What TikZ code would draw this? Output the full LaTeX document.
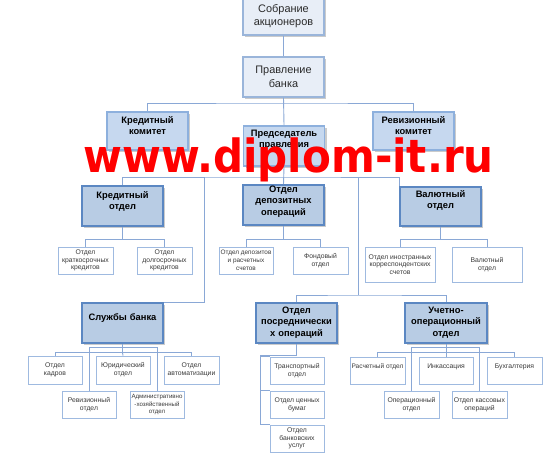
\documentclass[tikz,border=0pt]{standalone}
\usepackage{fontspec}
\usepackage{graphicx}
\setmainfont{Liberation Sans}
\newfontfamily\wmfont{DejaVu Sans}
\usetikzlibrary{shadows,calc}
\newlength\pxu
\setlength\pxu{0.75pt}
\definecolor{topfill}{HTML}{E8EEF7}
\definecolor{topline}{HTML}{9AB5DA}
\definecolor{komfill}{HTML}{C6D8EF}
\definecolor{komline}{HTML}{8DB0DD}
\definecolor{bigfill}{HTML}{B8CCE4}
\definecolor{bigline}{HTML}{5B87C2}
\definecolor{smline}{HTML}{9FBAE0}
\definecolor{lnc}{HTML}{8AA8D6}
\definecolor{txtgray}{HTML}{3A3A3A}
\definecolor{txtdark}{HTML}{2A2A2A}
\definecolor{wmred}{HTML}{FF0000}
\tikzset{
  shad/.style={drop shadow={shadow xshift=1.8pt, shadow yshift=-1.8pt, fill=black!40}},
  topbox/.style={inner sep=0pt, align=center, draw=topline, line width=1.4\pxu, fill=topfill, shad,
    font=\fontsize{8.2}{10.2}\selectfont, text=txtdark, minimum width=81\pxu},
  kombox/.style={inner sep=0pt, align=center, draw=komline, line width=1.6\pxu, fill=komfill, shad,
    font=\bfseries\fontsize{7}{8.9}\selectfont, text=black, text width=81\pxu},
  bigbox/.style={inner sep=0pt, align=center, draw=bigline, line width=1.8\pxu, fill=bigfill, shad,
    font=\bfseries\fontsize{7}{8.7}\selectfont, text=black, text width=81\pxu},
  sm/.style n args={2}{inner sep=0pt, align=center, draw=smline, line width=0.9\pxu, fill=white,
    font=\fontsize{5.1}{5.8}\selectfont, text=txtgray, minimum width=#1\pxu, minimum height=#2\pxu},
  upper/.style={text depth=8\pxu},
  conn/.style={draw=lnc, line width=0.9\pxu},
}
\begin{document}
\begin{tikzpicture}[x=0.75pt,y=-0.75pt]
\fill[white] (0,0) rectangle (559,460);
\useasboundingbox (0,0) rectangle (559,460);

% top levels
\node[topbox, minimum height=38\pxu] (sobr) at (283.5,16) {Собрание\\акционеров};
\node[topbox, minimum height=40\pxu] (prav) at (283.5,77) {Правление\\банка};
\node[kombox, text height=11\pxu, text depth=27\pxu] (kredkom) at (147.5,131) {Кредитный\\комитет};
\node[kombox, text height=11\pxu, text depth=27\pxu] (revkom) at (413.5,131) {Ревизионный\\комитет};
\node[kombox, text height=10\pxu, text depth=30\pxu] (pred) at (284,146) {Председатель\\правления};

% departments
\node[bigbox, text height=12\pxu, text depth=28\pxu] (kredotd) at (122.5,206) {Кредитный\\отдел};
\node[bigbox, text height=7\pxu, text depth=33\pxu] (depop) at (283.5,205) {Отдел\\депозитных\\операций};
\node[bigbox, text height=10\pxu, text depth=29\pxu] (valotd) at (440.5,206.5) {Валютный\\отдел};
\node[bigbox, text height=17\pxu, text depth=23\pxu] (sluzh) at (122.5,323) {Службы банка};
\node[bigbox, text height=10\pxu, text depth=30\pxu] (posr) at (296.5,323) {Отдел\\посреднически\\х операций};
\node[bigbox, text width=82\pxu, text height=10\pxu, text depth=30\pxu] (uchet) at (446,323) {Учетно-\\операционный\\отдел};

% small boxes
\node[sm={55}{27}] (kratk) at (85.5,260.5) {Отдел\\краткосрочных\\кредитов};
\node[sm={55}{27}] (dolg) at (164.5,260.5) {Отдел\\долгосрочных\\кредитов};
\node[sm={54}{27}, font=\fontsize{4.8}{5.8}\selectfont] (depsch) at (246,260.5) {Отдел депозитов\\и расчетных\\счетов};
\node[sm={55}{27}] (fond) at (320.5,260.5) {Фондовый\\отдел};
\node[sm={70}{35}] (inkor) at (400,264.5) {Отдел иностранных\\корреспондентских\\счетов};
\node[sm={70}{35}] (valsm) at (487,264.5) {Валютный\\отдел};

\node[sm={54}{28}] (kadr) at (55,370) {Отдел\\кадров};
\node[sm={54}{28}] (yur) at (123,370) {Юридический\\отдел};
\node[sm={55}{28}] (avt) at (191.5,370) {Отдел\\автоматизации};
\node[sm={54}{27}] (revotd) at (89,404.5) {Ревизионный\\отдел};
\node[sm={54}{27}, font=\fontsize{4.6}{5.8}\selectfont] (adm) at (157,404.5) {Административно\\-хозяйственный\\отдел};

\node[sm={54}{27}] (transp) at (297,370.5) {Транспортный\\отдел};
\node[sm={54}{27}] (cenn) at (297,404.5) {Отдел ценных\\бумаг};
\node[sm={54}{27}] (bank) at (297,438.5) {Отдел\\банковских\\услуг};

\node[sm={55}{27}, upper, font=\fontsize{4.9}{5.8}\selectfont] (rasch) at (377.5,370.5) {Расчетный отдел};
\node[sm={54}{27}, upper] (inkas) at (446,370.5) {Инкассация};
\node[sm={55}{27}, upper] (buh) at (514.5,370.5) {Бухгалтерия};
\node[sm={55}{27}] (operotd) at (411.5,404.5) {Операционный\\отдел};
\node[sm={55}{27}] (kass) at (479.5,404.5) {Отдел кассовых\\операций};

% connectors
\coordinate (bus1) at (283.5,103);
\coordinate (bus2) at (283.5,177);
\coordinate (s1) at (204,177);
\coordinate (s2) at (358,177);
\coordinate (bus3) at (358,295);
\coordinate (pv) at (260,355);
\draw[conn] (sobr.south) -- (prav.north);
\draw[conn] (prav.south) -- (pred.north);
\draw[conn] (kredkom.north) |- (bus1) -| (revkom.north);
\draw[conn] (pred.south) -- (depop.north);
\draw[conn] (kredotd.north) |- (bus2) -| (valotd.north west);
\draw[conn] (s1) |- (sluzh.north east);
\draw[conn] (s2) -- (bus3);
\draw[conn] (posr.north) |- (bus3) -| (uchet.north);

\draw[conn] (kredotd.south) -- ++(0,13) coordinate (kb);
\draw[conn] (kratk.north) |- (kb) -| (dolg.north);
\draw[conn] (depop.south) -- ++(0,14) coordinate (db);
\draw[conn] (depsch.north) |- (db) -| (fond.north);
\draw[conn] (valotd.south) -- ++(0,12.5) coordinate (vb);
\draw[conn] (inkor.north) |- (vb) -| (valsm.north);

\draw[conn] (sluzh.south) -- ++(0,9) coordinate (sb1);
\coordinate (sb2) at ($(sluzh.south)+(0,4)$);
\draw[conn] (kadr.north) |- (sb1) -| (avt.north);
\draw[conn] (sb1) -- (yur.north);
\draw[conn] (revotd.north) |- (sb2) -| (adm.north);

\draw[conn] (uchet.south) -- ++(0,9) coordinate (ub1);
\coordinate (ub2) at ($(uchet.south)+(0,4)$);
\draw[conn] (rasch.north) |- (ub1) -| (buh.north);
\draw[conn] (ub1) -- (inkas.north);
\draw[conn] (operotd.north) |- (ub2) -| (kass.north);

\draw[conn] (posr.south) |- (pv) |- (bank.north west);
\draw[conn] (pv |- cenn.north west) -- (cenn.north west);
\draw[conn] (pv |- transp.north west) -- (transp.north west);

% watermark
\node[anchor=base west, inner sep=0pt, text=wmred, font=\wmfont\bfseries\fontsize{34.3}{34.3}\selectfont] (wm) at (83,172) {\scalebox{0.92}[1]{www.diplom-it.ru}};
\end{tikzpicture}
\end{document}
